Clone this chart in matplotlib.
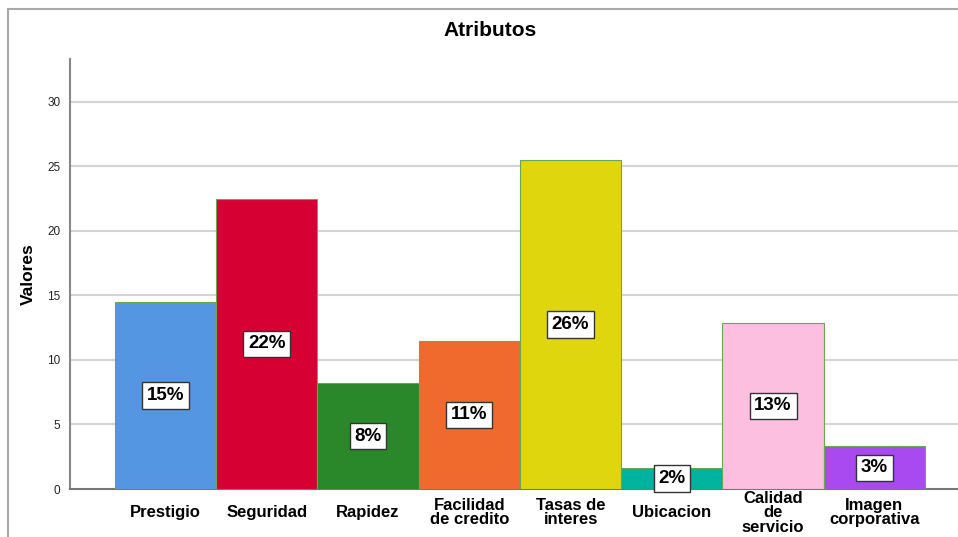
import matplotlib.pyplot as plt
from matplotlib.patches import Rectangle

categorias = ["Prestigio", "Seguridad", "Rapidez", "Facilidad\nde credito",
              "Tasas de\ninteres", "Ubicacion", "Calidad\nde\nservicio",
              "Imagen\ncorporativa"]
valores = [14.5, 22.5, 8.2, 11.5, 25.5, 1.6, 12.9, 3.3]
etiquetas = ["15%", "22%", "8%", "11%", "26%", "2%", "13%", "3%"]
colores = ["#5596e3", "#d60032", "#2a872a", "#f0692d",
           "#e0d60e", "#00b39e", "#fdbfdf", "#a84af0"]

plt.rcParams['font.family'] = ['Liberation Sans', 'DejaVu Sans']

W, H = 958, 537
fig = plt.figure(figsize=(W / 100, H / 100), dpi=100)
ax = fig.add_axes([70 / W, 1 - 489 / H, 1 - 70 / W, (489 - 59) / H])

# marco exterior
fig.patches.append(Rectangle((8 / W, -0.1), 2, 1.1 - 9 / H, transform=fig.transFigure,
                             fill=False, edgecolor="#a8a8a8", linewidth=1.5))

x = list(range(len(valores)))
ax.bar(x, valores, width=1.0, color=colores, edgecolor="#6aa84f", linewidth=0.8, zorder=3)

for xi, v, lab in zip(x, valores, etiquetas):
    ax.text(xi, v / 2, lab, ha="center", va="center", fontsize=13.5, fontweight="bold",
            zorder=4, bbox=dict(boxstyle="square,pad=0.25", facecolor="white",
                                edgecolor="#333333", linewidth=1))

ax.set_xlim(-0.944, 7.826)
ax.set_ylim(0, 33.33)
ax.set_yticks([0, 5, 10, 15, 20, 25, 30])
ax.tick_params(axis="y", length=0, labelsize=8.5, pad=7, labelcolor="#222222")
ax.set_xticks(x)
ax.set_xticklabels(categorias, fontsize=12, fontweight="bold", linespacing=0.95)
ax.tick_params(axis="x", length=0, pad=17)
for t in ax.get_xticklabels():
    t.set_va("center")

ax.grid(axis="y", color="#d4d4d4", linewidth=1.5, zorder=0)
ax.set_axisbelow(True)
for s in ["top", "right"]:
    ax.spines[s].set_visible(False)
ax.spines["left"].set_color("#888888")
ax.spines["left"].set_linewidth(1.5)
ax.spines["bottom"].set_color("#777777")
ax.spines["bottom"].set_linewidth(1.5)

ax.set_ylabel("Valores", fontsize=12.5, fontweight="bold")
ax.yaxis.set_label_coords(-(70 - 36) / (W - 70), 0.5)
fig.text(490 / W, 1 - 31 / H, "Atributos", ha="center", va="center",
         fontsize=15, fontweight="bold")

fig.savefig("out.png", dpi=100)
